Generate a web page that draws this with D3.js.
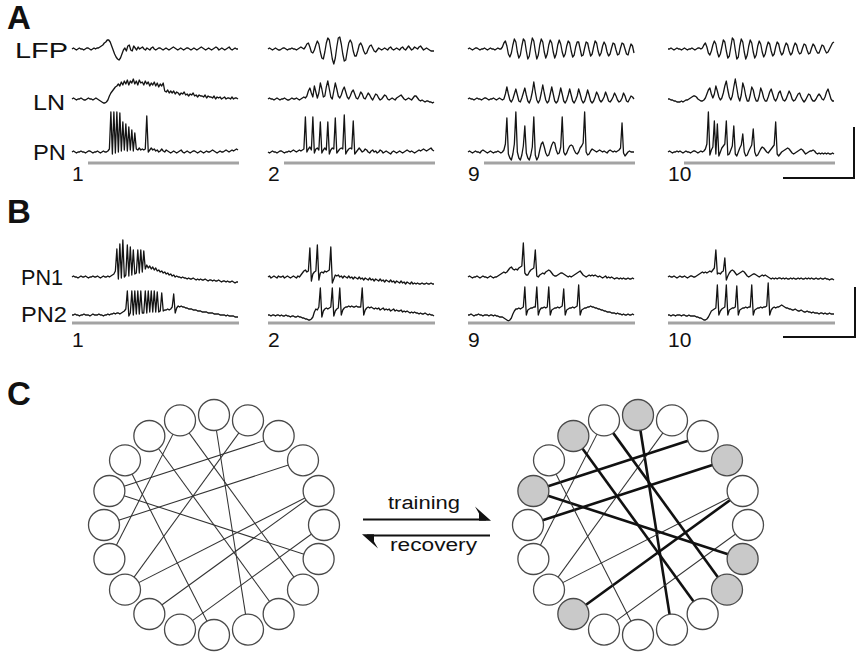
<!DOCTYPE html>
<html><head><meta charset="utf-8">
<script src="https://cdn.jsdelivr.net/npm/d3@7"></script>
<style>html,body{margin:0;padding:0;background:#fff}svg{display:block}</style>
</head><body>
<svg id="fig" width="857" height="654"></svg>
<script>
// ---------- DATA ----------
const trials = ["1", "2", "9", "10"];
const rowsA = ["LFP", "LN", "PN"];
const rowsB = ["PN1", "PN2"];

// Panel A, field potential (LFP) per trial (arbitrary units, up = positive)
const lfpA = [
  [0,1,0,-1,0,1,0,0,-1,0,1,1,0,-1,0,1,0,1,1,2,3,4,6,7,9,9,7,3,-1,-5,-8,-10,-11,-9,-5,-1,1,-2,3,4,-1,-2,3,1,-1,2,0,1,2,0,-1,1,0,-1,1,2,0,-1,0,1,1,0,-1,0,1,0,-1,0,1,2,1,0,-1,0,1,0,-1,0,1,1,0,-1,0,1,0,-1,0,1,2,1,0,-1,0,1,0,-1,0,1,2,1,-1,0,1,0,-1,0,1,2,0,-1,0,1,0,0],
  [0,1,0,-1,0,1,0,-1,-1,0,1,1,0,-1,0,0,1,0,0,-1,0,1,2,1,0,2,5,6,2,-3,-4,-1,4,8,5,-3,-9,-10,-3,6,11,9,0,-10,-15,-9,2,11,12,5,-5,-12,-11,-2,6,9,6,-2,-7,-7,-2,4,6,3,-2,-5,-4,0,3,4,1,-2,-3,-1,1,0,-1,0,1,0,-1,1,2,0,-1,0,1,0,-1,1,2,0,-1,1,3,1,-1,0,2,1,0,2,3,1,-1,0,1,0,-1,-2,-2,-2],
  [0,1,0,-1,0,1,1,0,-1,0,0,1,0,-1,0,1,0,0,-1,0,1,0,0,2,6,8,3,-5,-8,-4,4,10,7,-3,-9,-6,3,10,8,-2,-10,-7,3,11,8,-2,-10,-6,4,10,7,-3,-9,-5,4,9,6,-3,-9,-5,4,9,5,-3,-8,-5,3,8,6,-2,-8,-6,2,7,7,0,-7,-6,1,7,6,-1,-7,-5,2,8,6,-2,-7,-4,3,7,4,-3,-7,-5,1,6,5,-1,-6,-5,1,6,5,0,-5,-6,0,5,3,-4],
  [0,0,1,0,-1,0,1,0,0,-1,0,1,0,-1,0,0,1,0,-1,0,1,1,0,1,4,6,2,-4,-6,-2,4,8,5,-3,-8,-5,2,9,7,-2,-9,-7,2,11,9,-1,-10,-8,3,10,7,-3,-10,-6,3,9,6,-3,-9,-6,3,8,5,-3,-8,-5,2,7,5,-2,-7,-5,2,7,5,-2,-6,-4,2,6,4,-2,-6,-4,2,6,4,-2,-5,-4,1,5,4,-1,-5,-4,1,5,3,-1,-4,-4,0,4,3,-1,-4,-3,0,3,6,7]
];
// Panel A, local neuron (LN) membrane potential per trial
const lnA = [
  [0,1,0,-1,0,0,1,0,-1,-1,0,1,0,0,-1,0,1,0,-1,-2,-3,-4,-4,-3,-1,3,6,8,10,12,13,15,13,17,14,18,15,19,14,18,16,20,15,18,14,19,16,17,14,18,15,17,13,16,14,17,13,16,12,15,13,16,8,7,9,6,8,6,8,5,7,6,4,6,5,7,4,5,3,5,4,6,3,4,2,4,3,3,2,4,1,3,2,2,1,3,0,2,1,2,0,1,2,0,1,1,0,2,0,1,1,0],
  [0,1,0,0,-1,0,1,0,-1,0,0,1,0,-1,-1,0,1,0,0,1,0,-1,0,1,2,1,3,8,11,6,2,13,7,1,6,16,10,2,3,12,18,10,2,0,8,16,10,3,1,4,9,12,7,2,0,3,7,9,5,1,0,3,7,5,1,0,3,6,4,1,-1,2,5,4,1,-1,0,2,4,3,0,-1,0,1,0,-1,1,2,3,4,2,0,-1,0,1,0,-1,1,3,3,1,-1,-2,-1,-2,-3,-2,-2,-3,-3,-4,-3],
  [0,1,0,0,-1,0,1,0,0,-1,0,1,1,0,-1,0,0,1,0,-1,0,1,0,-1,0,5,12,5,-1,-3,0,5,10,4,-2,-3,1,6,11,4,-2,-4,0,7,17,7,-1,-4,-1,6,14,6,-1,-4,-2,5,12,5,-2,-4,-2,4,11,5,-2,-4,-1,4,10,4,-2,-4,-1,3,10,5,-1,-4,-2,3,9,4,-2,-4,-2,2,7,4,-1,-3,-1,2,7,3,-2,-3,-1,2,6,3,-1,-3,-2,1,6,3,-2,-3,0,3,2,0],
  [0,0,-1,-1,-2,-2,-3,-3,-3,-2,-3,-2,-1,-1,0,1,2,3,3,2,0,-1,-2,-2,-1,1,5,9,11,5,1,5,13,8,2,-1,1,6,13,18,9,2,-1,3,12,20,11,2,-2,4,16,11,3,-2,-2,4,12,9,2,-2,-2,3,11,7,1,-2,-2,2,7,10,5,0,-2,1,6,8,3,-1,-2,0,4,8,5,0,-2,-1,2,5,6,2,-1,-3,-1,2,5,4,0,-2,-2,0,3,5,3,0,-1,2,7,10,5,0,-2,-2]
];
// Panel A, projection neuron (PN) membrane potential per trial
const pnA = [
  [0,1,0,-1,0,0,1,0,0,-1,0,1,1,0,-1,0,0,1,0,-1,0,1,0,0,1,3,40,-2,40,-1,40,0,39,1,30,2,28,1,25,2,22,1,19,3,2,4,2,3,2,3,36,0,2,4,2,3,1,2,0,1,3,1,0,2,1,0,-1,0,1,0,-1,0,1,2,0,-1,0,1,0,-1,0,1,1,0,-1,0,1,0,-1,0,1,0,0,1,2,1,0,-1,0,1,0,0,1,2,1,0,1,2,1,2,3,2],
  [0,-1,0,1,0,0,-1,0,1,1,0,-1,0,0,1,0,1,2,1,0,1,2,1,2,3,35,0,3,5,2,35,-1,3,4,2,30,-1,2,4,2,30,-2,2,4,3,34,-1,1,3,4,3,37,-2,1,3,4,3,31,-2,0,2,4,2,0,1,3,2,0,-1,1,2,0,1,-1,0,2,1,-1,0,1,0,-1,-2,0,1,0,-1,0,1,0,-1,0,1,2,1,0,1,0,-1,0,1,2,1,2,3,2,1,2,3,4,2,1],
  [0,1,0,-1,0,1,0,0,-1,1,2,1,0,-1,0,1,0,-1,0,0,1,0,-1,0,2,8,34,-2,-6,-8,-2,8,40,0,-6,-8,-3,6,26,-1,-6,-8,-3,5,35,-3,-8,-5,2,8,10,5,-1,-4,-3,2,7,10,9,2,-2,-1,5,35,0,-3,-1,3,6,7,6,2,-1,-2,0,4,6,9,40,0,-3,-2,1,3,2,1,0,1,2,1,0,1,0,-1,1,2,1,0,1,0,1,2,4,29,-1,-4,-2,0,1,0,0,0],
  [0,1,0,-1,0,0,1,0,1,0,-1,0,1,0,0,-1,0,1,1,0,-1,0,1,0,1,3,8,40,-3,2,5,31,-2,28,-4,0,4,6,8,31,-3,-2,2,6,26,-2,-4,0,4,7,18,0,-4,-3,1,4,7,23,0,-4,-3,0,3,5,4,2,0,-1,1,3,5,7,30,-2,-4,-2,0,1,2,3,4,3,1,-1,-2,-1,0,1,2,3,2,0,-2,-1,0,1,1,2,1,-1,-2,-1,-2,-1,-2,-1,-2,-1,-2,-2,-1,-2]
];
// Panel B, two projection neurons per trial
const pn1B = [
  [0,1,0,0,-1,0,1,0,0,1,0,-1,0,0,1,0,0,1,0,-1,0,1,0,0,1,0,1,2,3,6,28,-2,33,-1,37,0,2,32,1,30,2,27,3,4,27,4,27,5,26,8,12,9,11,8,10,7,9,6,7,5,6,4,5,3,4,2,3,1,2,0,1,0,0,-1,0,-1,-1,-2,-1,-2,-2,-1,-2,-3,-2,-3,-2,-3,-3,-2,-3,-4,-3,-3,-4,-3,-4,-4,-3,-4,-5,-4,-4,-5,-4,-5,-5,-4,-5,-6,-5,-5],
  [0,1,-1,0,1,0,-1,1,0,0,1,-1,0,1,0,-1,0,1,0,-1,1,0,2,4,6,7,5,6,29,-4,3,5,6,32,-3,4,5,4,6,5,6,7,30,-6,-2,2,1,2,0,1,-1,1,0,-1,1,-1,0,-2,0,-1,-2,0,-2,-1,-3,-1,-2,-3,-1,-3,-2,-4,-2,-3,-4,-2,-4,-3,-5,-3,-4,-5,-3,-5,-4,-6,-4,-5,-6,-4,-6,-5,-7,-5,-6,-7,-5,-7,-6,-7,-6,-7,-7,-6,-7,-7,-6,-7,-7,-6,-7,-7],
  [0,1,0,-1,0,0,1,0,-1,0,1,0,0,-1,0,1,0,-1,0,0,1,2,3,4,5,4,5,7,9,10,8,7,8,7,9,10,11,34,4,2,2,5,7,8,9,27,1,0,2,3,4,3,5,6,7,6,4,2,1,1,2,3,4,4,3,2,1,0,1,0,1,2,3,4,5,6,4,2,1,0,1,2,1,2,1,2,1,0,1,0,-1,0,1,-1,0,-1,0,-1,-2,-1,-1,-2,-1,-2,-1,-2,-2,-1,-2,-2,-1,-2],
  [0,1,0,0,1,0,-1,0,1,0,0,1,0,-1,0,1,1,0,0,1,2,3,4,5,4,5,4,5,6,5,7,9,27,3,4,3,5,6,19,-3,1,4,6,7,6,4,2,3,4,5,6,5,3,1,0,1,2,3,3,2,1,0,1,2,1,2,1,0,-1,-2,-1,-2,-1,-2,-1,-1,-2,-1,-2,-1,-2,-2,-1,-2,-1,-2,-2,-1,-2,-1,-2,-2,-1,-2,-1,-2,-1,-2,-2,-1,-2,-2,-1,-2,-2,-1,-2,-2,-3,-2,-2,-3]
];
const pn2B = [
  [0,0,1,0,0,-1,0,0,1,0,0,0,-1,0,1,0,0,0,1,0,0,-1,0,0,1,0,1,1,2,1,2,2,1,2,3,4,6,24,-1,2,24,0,24,1,24,1,24,2,2,24,2,24,3,24,3,24,3,23,3,4,22,4,5,5,6,5,6,8,21,2,7,9,8,9,8,8,7,7,6,6,6,5,5,5,4,4,4,3,3,3,3,2,2,2,2,1,1,1,1,0,0,0,0,-1,0,-1,-1,-1,-1,-2,-2,-2],
  [0,0,-1,0,0,-1,0,0,-1,0,-1,-1,0,-1,-1,-2,-1,-1,-2,-2,-1,-2,-2,-3,-3,-4,-4,-5,-5,-4,-2,3,6,5,8,27,-2,4,6,7,6,7,8,27,-1,4,6,7,27,0,5,7,8,8,9,8,9,8,8,9,8,8,8,27,0,5,7,8,7,8,7,6,7,6,7,5,6,7,5,6,5,6,4,5,6,4,5,4,4,5,3,4,3,4,3,2,3,2,3,2,2,1,2,1,1,2,1,0,1,0,0,-1],
  [0,0,1,0,-1,0,0,1,0,0,-1,0,0,0,-1,0,0,-1,0,-1,-1,-2,-2,-2,-3,-4,-5,-6,-5,-3,1,4,6,6,7,6,7,8,28,0,5,6,7,7,8,8,28,0,5,7,7,8,7,8,28,0,5,6,7,7,8,7,8,9,26,0,5,6,7,7,8,7,8,9,30,0,5,6,7,7,8,8,9,8,8,7,7,6,6,5,5,4,4,3,3,3,2,2,2,1,2,1,1,0,1,0,0,1,0,0,1,0],
  [0,0,-1,0,0,-1,0,0,0,-1,0,0,-1,-1,0,-1,-1,-1,-1,-2,-2,-3,-3,-4,-5,-5,-4,-2,1,4,5,6,7,30,0,4,6,7,8,30,0,5,6,7,7,8,29,0,5,6,7,7,8,7,8,8,30,0,5,6,7,7,8,7,8,8,9,32,0,5,7,8,7,8,8,9,10,9,8,7,7,6,6,5,5,6,5,4,4,5,4,3,3,4,3,3,2,3,2,2,2,1,2,2,1,2,1,1,2,1,1,1]
];

// Panel C, network
const nodeCount = 20;
const edges = [[19,14],[0,9],[1,13],[2,16],[3,15],[4,12],[4,13],[5,11],[16,6],[18,8],[19,7],[17,10]];
const strengthenedEdges = [[18,8],[19,7],[0,9],[2,16],[3,15],[4,12],[16,6]];
const trainedNodes = [0,3,6,7,12,16,18];
const arrowLabels = ["training", "recovery"];

// ---------- DRAWING ----------
const svg = d3.select("#fig");
const FONT = "'Liberation Sans', Arial, Helvetica, sans-serif";

const colX = d3.scaleOrdinal().domain(trials).range([72, 268, 468, 668]);
const traceW = 166;

function drawTrace(vals, x0, base) {
  const x = d3.scaleLinear().domain([0, vals.length - 1]).range([x0, x0 + traceW]);
  const y = d3.scaleLinear().domain([0, 10]).range([base, base - 10]);
  svg.append("path").datum(vals)
    .attr("d", d3.line().x((d, i) => x(i)).y(d => y(d)))
    .attr("fill", "none").attr("stroke", "#141414")
    .attr("stroke-width", 1.3).attr("stroke-linejoin", "round");
}
function txt(s, x, y, size, opts = {}) {
  const t = svg.append("text").attr("x", x).attr("y", y).text(s)
    .attr("font-family", FONT).attr("font-size", size).attr("fill", "#111");
  if (opts.bold) t.attr("font-weight", "bold");
  if (opts.len) t.attr("textLength", opts.len).attr("lengthAdjust", "spacingAndGlyphs");
  return t;
}

// Panel letters
txt("A", 7, 29, 33, {bold: true});
txt("B", 7, 223, 33, {bold: true});
txt("C", 7, 405, 33, {bold: true});

// ---- Panel A ----
const baseA = d3.scaleOrdinal().domain(rowsA).range([49, 99, 152]);
const dataA = {LFP: lfpA, LN: lnA, PN: pnA};
const labelA = {LFP: {x: 15, y: 58, len: 53}, LN: {x: 33, y: 110, len: 32}, PN: {x: 33, y: 160, len: 33}};
rowsA.forEach(r => {
  txt(r, labelA[r].x, labelA[r].y, 22, {len: labelA[r].len});
  trials.forEach((t, k) => drawTrace(dataA[r][k], colX(t), baseA(r)));
});
trials.forEach(t => {
  svg.append("line").attr("x1", colX(t) + 16).attr("x2", colX(t) + traceW + 1)
    .attr("y1", 163).attr("y2", 163).attr("stroke", "#a3a3a3").attr("stroke-width", 3);
  txt(t, colX(t), 181, 21);
});
// scale bar A
svg.append("path").attr("d", d3.line()([[783, 178], [854, 178], [854, 127]]))
  .attr("fill", "none").attr("stroke", "#111").attr("stroke-width", 2);

// ---- Panel B ----
const baseB = d3.scaleOrdinal().domain(rowsB).range([277, 315]);
const dataB = {PN1: pn1B, PN2: pn2B};
const labelB = {PN1: {x: 21, y: 285, len: 42}, PN2: {x: 21, y: 322, len: 46}};
rowsB.forEach(r => {
  txt(r, labelB[r].x, labelB[r].y, 22, {len: labelB[r].len});
  trials.forEach((t, k) => drawTrace(dataB[r][k], colX(t), baseB(r)));
});
trials.forEach(t => {
  svg.append("line").attr("x1", colX(t)).attr("x2", colX(t) + traceW + 1)
    .attr("y1", 323).attr("y2", 323).attr("stroke", "#a3a3a3").attr("stroke-width", 3);
  txt(t, colX(t), 347, 21);
});
svg.append("path").attr("d", d3.line()([[783, 337], [855, 337], [855, 287]]))
  .attr("fill", "none").attr("stroke", "#111").attr("stroke-width", 2);

// ---- Panel C ----
const ringR = 110, nodeR = 15.5;
const angle = d3.scaleLinear().domain([0, nodeCount]).range([0, 2 * Math.PI]);
const key = (a, b) => Math.min(a, b) + "-" + Math.max(a, b);
const strongSet = new Set(strengthenedEdges.map(e => key(e[0], e[1])));
const grayNodes = new Set(trainedNodes);

function drawNetwork(cx, cy, trained) {
  const pos = d3.range(nodeCount).map(i => {
    const p = d3.pointRadial(angle(i), ringR);
    return [cx + p[0], cy + p[1]];
  });
  const g = svg.append("g");
  edges.forEach(e => {
    const strong = trained && strongSet.has(key(e[0], e[1]));
    g.append("line")
      .attr("x1", pos[e[0]][0]).attr("y1", pos[e[0]][1])
      .attr("x2", pos[e[1]][0]).attr("y2", pos[e[1]][1])
      .attr("stroke", strong ? "#111" : "#333")
      .attr("stroke-width", strong ? 2.6 : 1.05);
  });
  pos.forEach((p, i) => {
    g.append("circle").attr("cx", p[0]).attr("cy", p[1]).attr("r", nodeR)
      .attr("fill", trained && grayNodes.has(i) ? "#c9c9c9" : "#fff")
      .attr("stroke", "#4a4a4a").attr("stroke-width", 1.3);
  });
}
drawNetwork(214, 525, false);
drawNetwork(638, 525, true);

// arrows (half-headed)
const ax0 = 363, ax1 = 490, ayTop = 519.5, ayBot = 535.5;
svg.append("line").attr("x1", ax0).attr("x2", ax1 - 4).attr("y1", ayTop).attr("y2", ayTop)
  .attr("stroke", "#111").attr("stroke-width", 2);
svg.append("path").attr("d", d3.line()([[ax1 + 1, ayTop + 1.2], [ax1 - 15, ayTop - 13], [ax1 - 11, ayTop - 6], [ax1 - 11, ayTop + 1.2]]) + "Z")
  .attr("fill", "#111");
svg.append("line").attr("x1", ax0 + 4).attr("x2", ax1).attr("y1", ayBot).attr("y2", ayBot)
  .attr("stroke", "#111").attr("stroke-width", 2);
svg.append("path").attr("d", d3.line()([[ax0 - 1, ayBot - 1.2], [ax0 + 15, ayBot + 13], [ax0 + 11, ayBot + 6], [ax0 + 11, ayBot - 1.2]]) + "Z")
  .attr("fill", "#111");
txt(arrowLabels[0], 388, 509, 18, {len: 72});
txt(arrowLabels[1], 390, 551, 18, {len: 87});
</script>
</body></html>
